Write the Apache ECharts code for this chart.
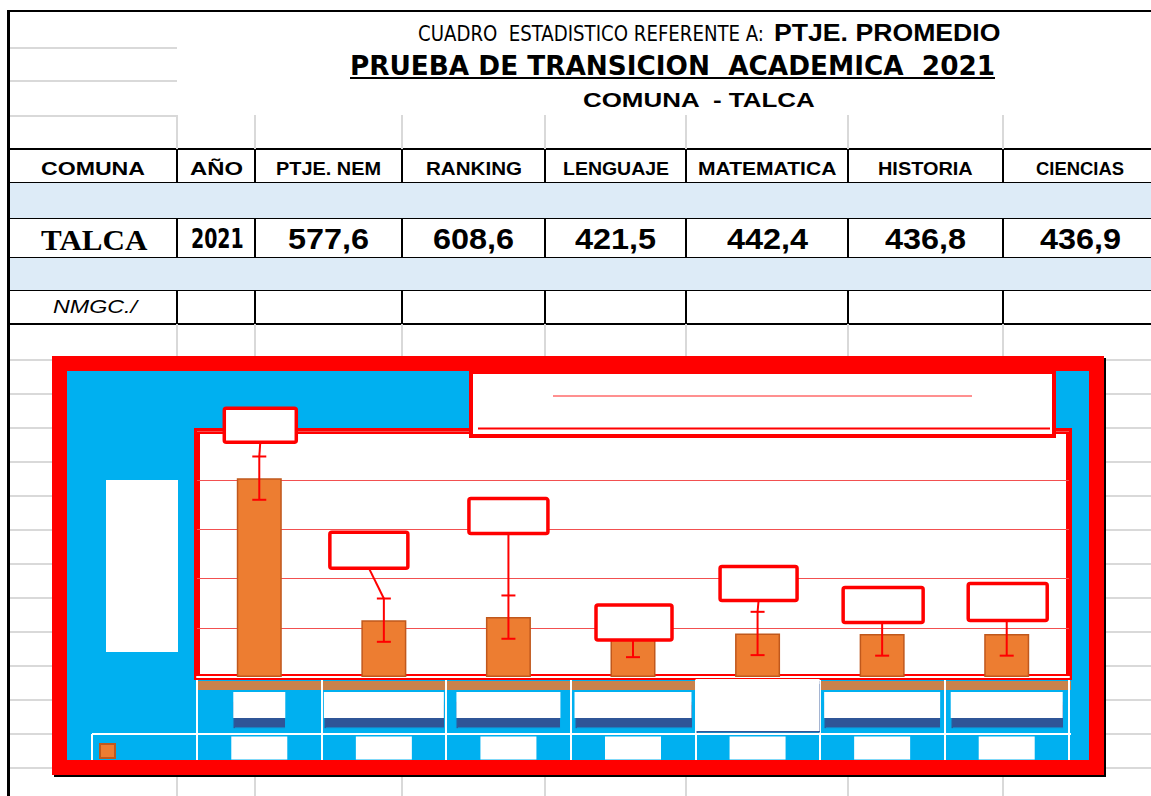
<!DOCTYPE html>
<html>
<head>
<meta charset="utf-8">
<script src="https://cdn.jsdelivr.net/npm/echarts@6/dist/echarts.min.js"></script>
<style>
  html, body { margin: 0; padding: 0; background: #fff; width: 1151px; height: 796px; overflow: hidden; position: relative; }
  .ln { position: absolute; }
  #sombra { position: absolute; left: 54px; top: 358px; width: 1052px; height: 419px; background: #000; }
  #marco { position: absolute; left: 52px; top: 356px; width: 1052px; height: 419px; background: #f00; }
  #chart { position: absolute; left: 67px; top: 371px; width: 1022px; height: 389px; }
</style>
</head>
<body>
<div id="sombra"></div>
<div id="marco"></div>
<div id="chart"></div>
<script>
// datos
var comuna = 'TALCA';
var columnas = ['AÑO', 'PTJE. NEM', 'RANKING', 'LENGUAJE', 'MATEMATICA', 'HISTORIA', 'CIENCIAS'];
var valores = [2021, 577.6, 608.6, 421.5, 442.4, 436.8, 436.9];
var errores = [220, 220, 220, 220, 220, 220, 220];

var NARROW = '"Liberation Sans Narrow", "DejaVu Sans Condensed", "Liberation Sans", sans-serif';
var SANS = '"Liberation Sans", Arial, sans-serif';
var SERIF = '"Liberation Serif", "Times New Roman", serif';

function linea(x, y, w, h, color) {
  var d = document.createElement('div');
  d.className = 'ln';
  d.style.cssText = 'left:' + x + 'px;top:' + y + 'px;width:' + w + 'px;height:' + h + 'px;background:' + color;
  document.body.insertBefore(d, document.body.firstChild);
}

function texto(str, cx, cy, w, fs, o) {
  o = o || {};
  var d = document.createElement('div');
  d.textContent = str;
  d.style.cssText = 'position:absolute;white-space:pre;transform-origin:0 50%;top:' + (cy - fs * 0.6) +
    'px;font-size:' + fs + 'px;line-height:' + (fs * 1.2) + 'px;font-family:' + (o.f || SANS) +
    ';font-weight:' + (o.b ? 'bold' : 'normal') + ';' + (o.i ? 'font-style:italic;' : '') +
    (o.u ? 'text-decoration:underline;' : '') + 'color:#000;';
  document.body.appendChild(d);
  var ow = d.offsetWidth;
  d.style.left = (cx - w / 2) + 'px';
  d.style.transform = 'scaleX(' + (w / ow) + ')';
}

// hoja de calculo: lineas grises
var gris = '#d9d9d9';
[47, 80, 115].forEach(function (y) { linea(10, y, 167, 2, gris); });
var colX = [177, 255, 402, 545, 686, 848, 1003];
colX.forEach(function (x) {
  linea(x - 1, 115, 2, 34, gris);
  linea(x - 1, 324, 2, 33, gris);
  linea(x - 1, 777, 2, 20, gris);
});
for (var y = 359; y < 796; y += 34) {
  linea(10, y, 42, 2, gris);
  linea(1106, y, 45, 2, gris);
}

// tabla
linea(10, 183, 1141, 35, '#ddebf7');
linea(10, 258, 1141, 32, '#ddebf7');
[148, 182, 217, 257, 289, 323].forEach(function (y) { linea(8, y, 1143, 2, '#000'); });
colX.forEach(function (x) { linea(x - 1, 148, 2, 177, '#000'); });
linea(7, 10, 3, 786, '#000');
linea(7, 10, 1144, 2, '#000');

// titulos
texto('CUADRO  ESTADISTICO REFERENTE A:', 591, 35, 346, 21, { f: NARROW });
texto('PTJE. PROMEDIO', 887, 34, 227, 23, { b: true });
texto('PRUEBA DE TRANSICION  ACADEMICA  2021', 672, 66, 645, 27, { f: NARROW, b: true, u: true });
texto('COMUNA  - TALCA', 699, 100, 232, 21, { b: true });

// encabezados y valores
var centros = [216, 328.5, 473.5, 615.5, 767, 925.5, 1080];
var anchosTxt = [53, 105, 96, 106, 138, 95, 88];
texto('COMUNA', 93, 170, 104, 18, { b: true });
columnas.forEach(function (c, i) { texto(c, centros[i], 170, anchosTxt[i], 18, { b: true }); });
texto(comuna, 94, 240, 106, 29, { f: SERIF, b: true });
valores.forEach(function (v, i) {
  if (i === 0) texto(String(v), 217, 239, 53, 27, { f: NARROW, b: true });
  else texto(v.toFixed(1).replace('.', ','), centros[i], 239, 81, 30, { b: true });
});
texto('NMGC./', 95, 308, 84, 18, { i: true });

// grafico
var chart = echarts.init(document.getElementById('chart'));

var cajas = [[1, -53, 72, 34], [-15, -70, 78, 36], [0, -101, 79, 35], [1, -13, 76, 35],
             [1, -50, 77, 34], [1, -29, 80, 35], [1, -32, 79, 37]];
var fila1 = [[52, 26], [120, 26], [104, 26], [117, 26], [124, 52], [116, 26], [112, 26]];

var rich1 = {}, rich2 = {};
fila1.forEach(function (s, i) {
  rich1['c' + i] = { width: s[0], height: s[1], backgroundColor: '#fff',
    shadowColor: '#2f5597', shadowBlur: 1, shadowOffsetY: s[1] > 30 ? 2 : 10 };
  rich2['c' + i] = { width: 56, height: 23, backgroundColor: '#fff' };
});

var option = {
  backgroundColor: '#00b0f0',
  animation: false,
  grid: { left: 130, top: 60, width: 872, height: 246, show: true, backgroundColor: '#fff',
          borderColor: '#ff0000', borderWidth: 6 },
  legend: { left: 32, top: 372, itemWidth: 15, itemHeight: 14, icon: 'rect', padding: 0,
            formatter: function () { return ''; }, textStyle: { fontSize: 1 } },
  xAxis: [
    { type: 'category', data: columnas, position: 'bottom', offset: 3,
      axisLine: { show: true, lineStyle: { color: '#fff', width: 2 } },
      axisTick: { show: false },
      axisLabel: { interval: 0, margin: 25, verticalAlign: 'middle',
                   formatter: function (v, i) { return '{c' + i + '| }'; }, rich: rich1 } },
    { type: 'category', data: columnas, position: 'bottom', offset: 3,
      axisLine: { show: false },
      axisTick: { show: true, length: 80, lineStyle: { color: '#fff', width: 2 } },
      axisLabel: { interval: 0, margin: 68, verticalAlign: 'middle',
                   formatter: function (v, i) { return '{c' + i + '| }'; }, rich: rich2 } }
  ],
  yAxis: { type: 'value', min: 0, max: 2500, interval: 500,
           axisLabel: { show: false }, axisLine: { show: false }, axisTick: { show: false },
           splitLine: { lineStyle: { color: '#f25050', width: 1 } } },
  graphic: [
    { type: 'rect', z: -1, shape: { x: 129, y: 310, width: 875, height: 9 },
      style: { fill: '#c9824c' } },
    { type: 'line', z: 1, shape: { x1: 25, y1: 363, x2: 1004, y2: 363 }, style: { stroke: '#fff', lineWidth: 2 } },
    { type: 'line', z: 1, shape: { x1: 25, y1: 363, x2: 25, y2: 389 }, style: { stroke: '#fff', lineWidth: 2 } },
    { type: 'rect', z: 1, shape: { x: 39, y: 109, width: 72, height: 172 }, style: { fill: '#fff' } },
    { type: 'rect', z: 20, shape: { x: 404, y: 1, width: 583, height: 64 },
      style: { fill: '#fff', stroke: '#ff0000', lineWidth: 4 } },
    { type: 'line', z: 21, shape: { x1: 486, y1: 25, x2: 905, y2: 25 }, style: { stroke: '#ff2020', lineWidth: 1 } },
    { type: 'line', z: 21, shape: { x1: 411, y1: 57.5, x2: 983, y2: 57.5 }, style: { stroke: '#ff0000', lineWidth: 2 } }
  ],
  series: [
    { name: 'PTJE. PROMEDIO', type: 'bar', barWidth: 45, data: valores,
      itemStyle: { color: '#ed7d31', borderColor: '#c0581c', borderWidth: 1.5 } },
    { type: 'custom', z: 5,
      data: valores.map(function (v, i) { return [i, v, errores[i]]; }),
      renderItem: function (params, api) {
        var i = params.dataIndex;
        var p = api.coord([api.value(0), api.value(1)]);
        var hi = api.coord([api.value(0), api.value(1) + api.value(2)]);
        var lo = api.coord([api.value(0), api.value(1) - api.value(2)]);
        var c = cajas[i];
        var bx = p[0] + c[0], by = p[1] + c[1];
        var st = { stroke: '#ff0000', lineWidth: 2 };
        return { type: 'group', children: [
          { type: 'line', shape: { x1: hi[0], y1: hi[1], x2: lo[0], y2: lo[1] }, style: st },
          { type: 'line', shape: { x1: hi[0] - 7, y1: hi[1], x2: hi[0] + 7, y2: hi[1] }, style: st },
          { type: 'line', shape: { x1: lo[0] - 7, y1: lo[1], x2: lo[0] + 7, y2: lo[1] }, style: st },
          { type: 'line', shape: { x1: bx, y1: by + c[3] / 2, x2: hi[0], y2: hi[1] }, style: st },
          { type: 'rect', shape: { x: bx - c[2] / 2, y: by - c[3] / 2, width: c[2], height: c[3], r: 2 },
            style: { fill: '#fff', stroke: '#ff0000', lineWidth: 3.5 } }
        ] };
      } }
  ]
};
chart.setOption(option);
</script>
</body>
</html>
